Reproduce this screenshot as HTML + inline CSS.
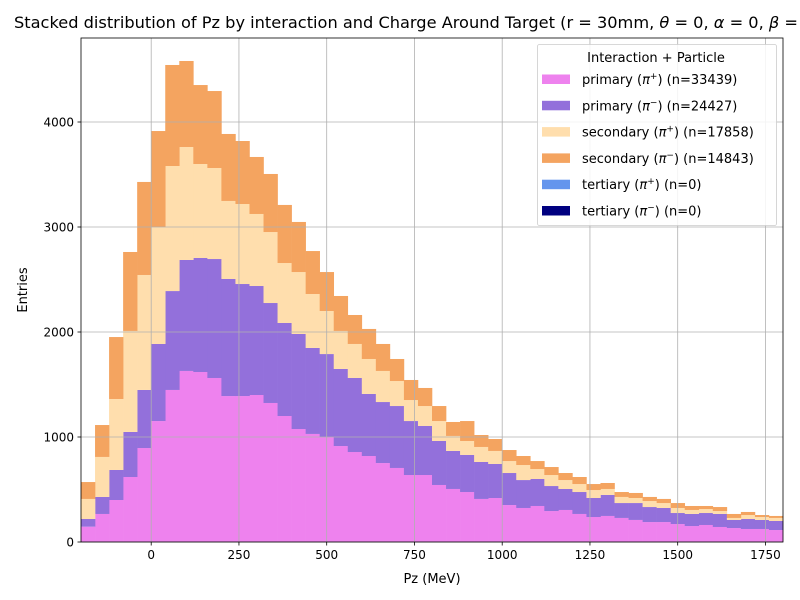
<!DOCTYPE html>
<html><head><meta charset="utf-8"><style>
body{margin:0;background:#fff;overflow:hidden;}
svg{display:block;font-family:"DejaVu Sans","Liberation Sans",sans-serif;}
</style></head><body>
<svg id="chart" width="800" height="600" viewBox="0 0 800 600">
<text x="14" y="28" font-size="16.2" fill="#000">Stacked distribution of Pz by interaction and Charge Around Target (r = 30mm, <tspan font-style="italic">θ</tspan> = 0, <tspan font-style="italic">α</tspan> = 0, <tspan font-style="italic">β</tspan> = 0)</text>
<g id="bars"></g>
<g id="grid"></g>
<g id="axes"></g>
<text x="432" y="583" font-size="13" text-anchor="middle">Pz (MeV)</text>
<text x="0" y="0" font-size="13" text-anchor="middle" transform="translate(27,290) rotate(-90)">Entries</text>
<g id="legend"></g>
</svg>
<script>
const binStart = -200;
const binWidth = 40;
const primaryPlus = [146,267,400,619,895,1152,1448,1629,1619,1562,1390,1390,1400,1324,1200,1076,1029,1000,914,857,819,752,705,638,638,543,505,476,410,419,352,324,343,295,305,267,238,248,229,210,190,190,171,152,162,143,133,124,124,114];
const primaryMinus = [73,162,286,429,553,734,942,1057,1086,1133,1115,1067,1038,952,886,905,819,790,734,705,591,581,590,514,467,419,362,353,352,324,305,266,257,238,200,209,181,200,142,161,143,134,105,115,114,124,77,95,86,86];
const secondaryPlus = [191,381,676,962,1095,1114,1191,1076,895,867,743,762,686,676,571,590,514,410,362,324,333,296,238,200,190,190,143,133,143,124,114,143,95,105,85,76,76,57,58,48,57,47,48,38,38,28,19,38,28,29];
const secondaryMinus = [161,304,590,752,886,914,962,819,752,733,638,600,543,553,553,477,409,371,333,276,286,257,210,191,172,143,133,190,114,114,105,86,76,76,67,67,57,57,47,48,39,39,47,38,29,38,38,29,19,19];
const tertiaryPlus = new Array(50).fill(0);
const tertiaryMinus = new Array(50).fill(0);
const seriesNames = ["primary","primary","secondary","secondary","tertiary","tertiary"];
const seriesCounts = ["33439","24427","17858","14843","0","0"];
const xTicks = [0,250,500,750,1000,1250,1500,1750];
const yTicks = [0,1000,2000,3000,4000];

const NS="http://www.w3.org/2000/svg";
const X0=81,X1=783,Y0=542,Y1=38;
const xMin=-200,xMax=1800,yMax=4800;
const sx=v=>X0+(v-xMin)/(xMax-xMin)*(X1-X0);
const sy=v=>Y0-v/yMax*(Y0-Y1);
function mk(tag,attrs,parent){const e=document.createElementNS(NS,tag);for(const k in attrs)e.setAttribute(k,attrs[k]);parent.appendChild(e);return e;}
const series=[primaryPlus,primaryMinus,secondaryPlus,secondaryMinus,tertiaryPlus,tertiaryMinus];
const colors=["#ee82ee","#9370db","#ffdead","#f4a460","#6495ed","#000080"];
const keys=["primary-plus","primary-minus","secondary-plus","secondary-minus","tertiary-plus","tertiary-minus"];
const bars=document.getElementById('bars');
const cum=new Array(primaryPlus.length).fill(0);
series.forEach((s,si)=>{
  s.forEach((v,i)=>{
    if(v<=0)return;
    const a=binStart+i*binWidth,b=a+binWidth;
    const x=sx(a),w=sx(b)-sx(a);
    const yt=sy(cum[i]+v),yb=sy(cum[i]);
    const r=mk('rect',{x:x,y:yt,width:w+0.3,height:yb-yt,fill:colors[si]},bars);
    
    
    cum[i]+=v;
  });
});
const grid=document.getElementById('grid');
const axes=document.getElementById('axes');
xTicks.forEach(t=>{
  const x=sx(t);
  const l=mk('line',{x1:x,x2:x,y1:Y1,y2:Y0,stroke:'#b0b0b0','stroke-width':0.8},grid);
  
  
  mk('line',{x1:x,x2:x,y1:Y0,y2:Y0+3.5,stroke:'#000','stroke-width':0.8},axes);
  const tx=mk('text',{x:x,y:Y0+17,'font-size':12,'text-anchor':'middle'},axes);
  tx.textContent=t;
  
  
});
yTicks.forEach(t=>{
  const y=sy(t);
  const l=mk('line',{x1:X0,x2:X1,y1:y,y2:y,stroke:'#b0b0b0','stroke-width':0.8},grid);
  
  
  mk('line',{x1:X0-3.5,x2:X0,y1:y,y2:y,stroke:'#000','stroke-width':0.8},axes);
  const tx=mk('text',{x:X0-7,y:y+4.5,'font-size':12,'text-anchor':'end'},axes);
  tx.textContent=t;
  
  
});
const frame=mk('rect',{x:X0,y:Y1,width:X1-X0,height:Y0-Y1,fill:'none',stroke:'#000','stroke-width':0.8},axes);



const lg=document.getElementById('legend');
const box=mk('rect',{x:537.5,y:44.5,width:239,height:181,rx:2,fill:'#fff','fill-opacity':0.85,stroke:'#ccc','stroke-width':0.8},lg);


const lt=mk('text',{x:656,y:62,'font-size':13,'text-anchor':'middle'},lg);
lt.textContent='Interaction + Particle';


for(let i=0;i<6;i++){
  const y=79+i*26.3;
  const g=mk('g',{},lg);
  
  
  mk('rect',{x:542,y:y-4.5,width:28,height:9.5,fill:colors[i]},g);
  const t=mk('text',{x:582,y:y+5,'font-size':13},g);
  const sign=i%2===0?'+':'−';
  t.innerHTML=seriesNames[i]+' (<tspan font-style="italic">π</tspan><tspan font-size="9" dy="-5">'+sign+'</tspan><tspan dy="5">) (n='+seriesCounts[i]+')</tspan>';
}
</script>
</body></html>
